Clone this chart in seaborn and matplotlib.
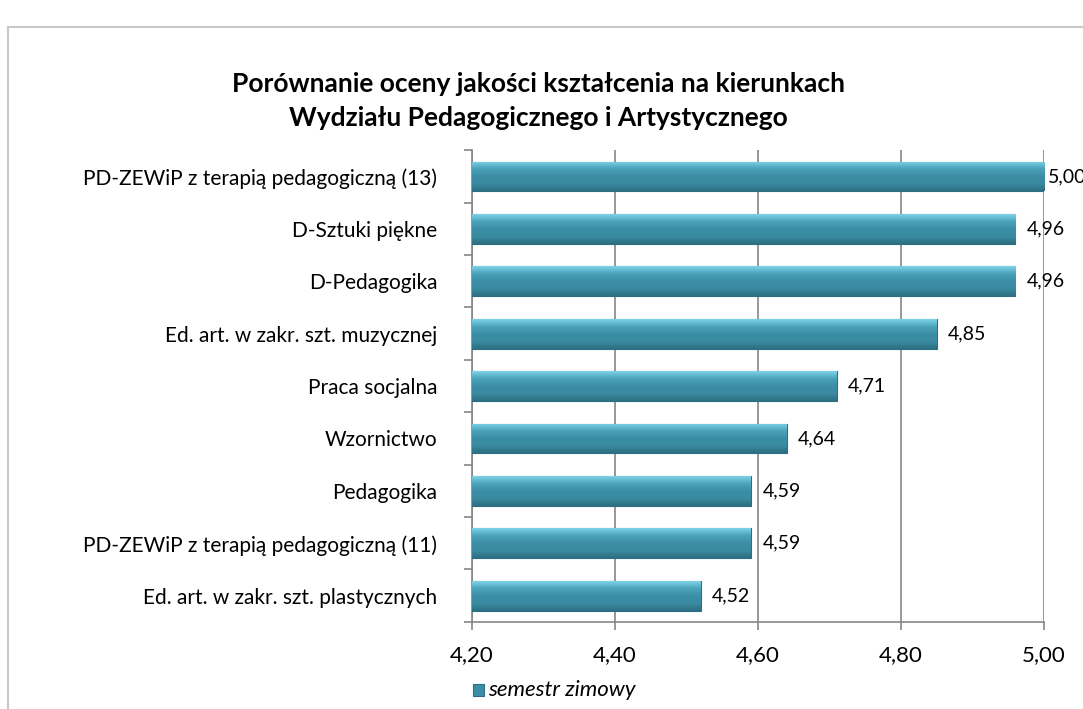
import numpy as np
import pandas as pd
import matplotlib
matplotlib.use("Agg")
import matplotlib.pyplot as plt
import seaborn as sns
from matplotlib.colors import LinearSegmentedColormap
from matplotlib.patches import Rectangle

# Data
categories = [
    "PD-ZEWiP z terapią pedagogiczną (13)",
    "D-Sztuki piękne",
    "D-Pedagogika",
    "Ed. art. w zakr. szt. muzycznej",
    "Praca socjalna",
    "Wzornictwo",
    "Pedagogika",
    "PD-ZEWiP z terapią pedagogiczną (11)",
    "Ed. art. w zakr. szt. plastycznych",
]
values = [5.00, 4.96, 4.96, 4.85, 4.71, 4.64, 4.59, 4.59, 4.52]
xticks = [4.20, 4.40, 4.60, 4.80, 5.00]

df = pd.DataFrame({"kierunek": categories, "ocena": values})

sns.set_theme(style="white")
plt.rcParams["font.family"] = ["Lato", "DejaVu Sans"]
plt.rcParams["text.color"] = "black"
plt.rcParams["xtick.labelcolor"] = "black"
plt.rcParams["ytick.labelcolor"] = "black"

fig = plt.figure(figsize=(10.83, 7.09), dpi=100)
ax = fig.add_axes([0.4358, 0.123, 0.5282, 0.665])

# outer chart frame
fig.patches.append(Rectangle((8 / 1083, -0.05), 1.1, 1 - 27 / 709 + 0.05,
                             transform=fig.transFigure, fill=False,
                             edgecolor="#c8c8c8", linewidth=1.5, zorder=0))

sns.barplot(data=df, y="kierunek", x="ocena", color="#3b8ea5",
            width=0.57, ax=ax, zorder=3, edgecolor="#2d6f82", linewidth=0.8)

# bevel-like vertical gradient on each bar
cmap = LinearSegmentedColormap.from_list(
    "bevel", ["#7fd2e6", "#4aa3ba", "#3b8ea5", "#3a8ba1", "#2d6f82"])
grad = np.linspace(0, 1, 64).reshape(-1, 1)
for p in ax.patches:
    x0, y0 = p.get_x(), p.get_y()
    w, h = p.get_width(), p.get_height()
    im = ax.imshow(grad, cmap=cmap, aspect="auto", zorder=3.5,
                   extent=[4.2, x0 + w, y0 + h, y0], origin="upper")
    im.set_clip_path(p)

ax.set_xlim(4.2, 5.0)
ax.set_ylim(len(categories) - 0.5, -0.5)
ax.set_xticks(xticks)
ax.set_xticklabels([f"{t:.2f}".replace(".", ",") for t in xticks], fontsize=16)
ax.tick_params(axis="x", length=6, width=1.2, color="#868686", pad=11,
               direction="out", bottom=True)
ax.tick_params(axis="y", length=0, pad=25, labelsize=15)
ax.set_yticks(range(len(categories)))
ax.set_yticks(np.arange(-0.5, len(categories), 1), minor=True)
ax.tick_params(axis="y", which="minor", length=6, width=1.2,
               color="#868686", direction="out", left=True)
ax.set_xlabel("")
ax.set_ylabel("")

ax.grid(axis="x", color="#868686", linewidth=1.2, zorder=0)
ax.set_axisbelow(True)
for side in ["top", "right"]:
    ax.spines[side].set_visible(False)
for side in ["left", "bottom"]:
    ax.spines[side].set_color("#868686")
    ax.spines[side].set_linewidth(1.2)

# data labels (the one at the axis end sits closer, as in the original)
for i, v in enumerate(values):
    off = 0.005 if v >= 4.99 else 0.016
    ax.text(v + off, i, f"{v:.2f}".replace(".", ","), va="center",
            ha="left", fontsize=14, color="black", clip_on=False)

fig.text(0.497, 0.857, "Porównanie oceny jakości kształcenia na kierunkach\n"
         "Wydziału Pedagogicznego i Artystycznego", ha="center", va="center",
         fontsize=19, fontweight="bold", linespacing=1.5)

# legend
leg_ax_y = 1 - 690 / 709
fig.patches.append(Rectangle((473 / 1083, leg_ax_y - 6 / 709), 11 / 1083, 12 / 709,
                             transform=fig.transFigure, facecolor="#3b8ea5",
                             edgecolor="#2d6f82", linewidth=0.8))
fig.text(488 / 1083, leg_ax_y, "semestr zimowy", fontsize=16,
         style="italic", va="center", ha="left")

fig.savefig("out.png", dpi=100)
